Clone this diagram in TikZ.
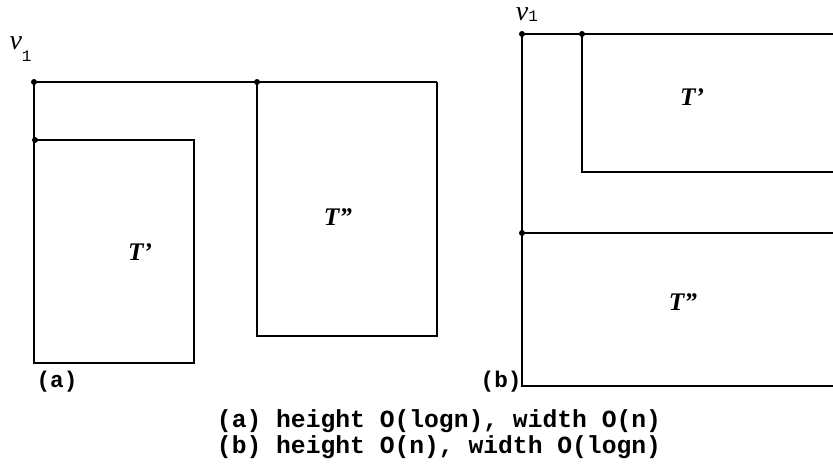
\documentclass[tikz,border=0pt]{standalone}
\usepackage{fontspec}
\setmainfont{Liberation Serif}
\setmonofont{Liberation Mono}
\usetikzlibrary{positioning}

\begin{document}
\begin{tikzpicture}[x=0.75pt,y=-0.75pt,line width=0.8pt,
  dot/.style={circle,fill,inner sep=0pt,minimum size=4.5pt},
  tree/.style={font=\fontsize{19}{21}\selectfont\itshape\bfseries},
  vert/.style={font=\fontsize{21}{22}\selectfont\itshape,inner sep=0pt},
  tag/.style={font=\fontsize{17}{19}\selectfont\ttfamily\bfseries,inner sep=0pt}]
  \useasboundingbox (0,0) rectangle (833,465);

  % (a) height O(log n)
  \node[dot] (a-v1) at (34,82) {};
  \node[dot] (a-top2) at (257,82) {};
  \node[dot] (a-top1) at (35,140) {};
  \coordinate (a-end) at (437,82);
  \coordinate (a-br1) at (194,363);
  \coordinate (a-br2) at (437,336);
  \draw (a-v1.center) -- (a-end);
  \draw (a-v1.center) -- (a-v1.center |- a-br1) -- (a-br1)
    -- (a-br1 |- a-top1) -- (a-top1.center);
  \draw (a-top2.center) -- (a-top2.center |- a-br2) -- (a-br2) -- (a-end);
  \node[vert,anchor=south west] (a-lbl) at (9,62)
    {v\raisebox{-9pt}{\fontsize{12}{12}\selectfont\upshape\ttfamily 1}};
  \node[tree] (a-t1) at (140,252) {T'};
  \node[tree] (a-t2) at (338,217) {T"};
  \node[tag] (a-tag) at (57,382) {(a)};

  % (b) height O(n)
  \node[dot] (b-v1) at (522,34) {};
  \node[dot] (b-top1) at (582,34) {};
  \node[dot] (b-top2) at (522,233) {};
  \coordinate (b-end) at (833,34);
  \coordinate (b-mid) at (833,233);
  \coordinate (b-bl) at (522,386);
  \coordinate (b-br) at (833,386);
  \coordinate (b-r1) at (833,172);
  \draw (b-v1.center) -- (b-end);
  \draw (b-v1.center) -- (b-bl) -- (b-br);
  \draw (b-top1.center) -- (b-top1.center |- b-r1) -- (b-r1);
  \draw (b-top2.center) -- (b-mid);
  \node[vert,anchor=south] (b-lbl) at (527,22)
    {v\raisebox{-1pt}{\fontsize{12}{12}\selectfont\upshape\ttfamily 1}};
  \node[tree] (b-t1) at (692,97) {T'};
  \node[tree] (b-t2) at (683,302) {T"};
  \node[tag,anchor=east] (b-tag) at (b-bl |- a-tag) {(b)};

  \node[tag,align=left,font=\fontsize{18.5}{19.5}\selectfont\ttfamily\bfseries]
    (caption) at (439,434)
    {(a) height O(logn), width O(n)\\(b) height O(n), width O(logn)};
\end{tikzpicture}
\end{document}
